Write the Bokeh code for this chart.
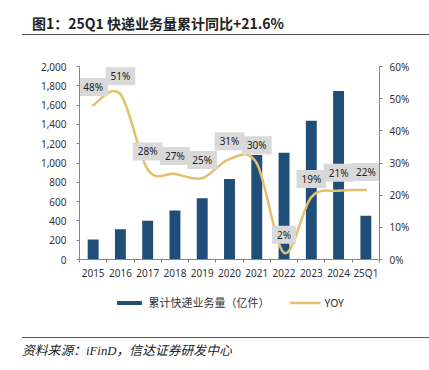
import numpy as np
from bokeh.plotting import figure
from bokeh.models import (Range1d, LinearAxis, FixedTicker, NumeralTickFormatter,
                          Legend, LegendItem, Div, ColumnDataSource)
from bokeh.layouts import column
from bokeh.embed import file_html
from bokeh.resources import INLINE
from bokeh.core.properties import value

# ---- data ----
categories = ["2015", "2016", "2017", "2018", "2019", "2020", "2021", "2022", "2023", "2024", "25Q1"]
volume = [206, 313, 401, 507, 635, 834, 1083, 1106, 1437, 1745, 453]
yoy = [0.48, 0.514, 0.28, 0.266, 0.253, 0.312, 0.299, 0.021, 0.194, 0.214, 0.216]
left_ticks = [0, 200, 400, 600, 800, 1000, 1200, 1400, 1600, 1800, 2000]
right_ticks = [0.0, 0.1, 0.2, 0.3, 0.4, 0.5, 0.6]
series_names = ["累计快递业务量（亿件）", "YOY"]
title_text = "图1：25Q1 快递业务量累计同比+21.6%"
source_text = "资料来源：iFinD，信达证券研发中心"

BLUE = "#1f4e79"
GOLD = "#e3c06c"
AXIS = "#868686"
TXT = "#333333"

n = len(categories)
xs = np.arange(n) + 0.5
ys = np.array(yoy)

p = figure(width=429, height=250, output_backend="svg", toolbar_location=None,
           x_range=Range1d(0, n), y_range=Range1d(0, 2000),
           min_border_left=79, min_border_right=50, min_border_top=31, min_border_bottom=26)
p.outline_line_color = None
p.xgrid.visible = False
p.ygrid.visible = False
p.extra_y_ranges = {"yoy": Range1d(0, 0.6)}

bar_src = ColumnDataSource(dict(x=xs, v=volume, cat=categories))
bars = p.vbar(x="x", top="v", width=0.4, source=bar_src, fill_color=BLUE, line_color=None)

# smooth (Excel-style) line via cubic Bezier segments built from the YOY points
prev_y = np.concatenate([[ys[0]], ys[:-2]])
next_y = np.concatenate([ys[2:], [ys[-1]]])
prev_x = np.concatenate([[xs[0]], xs[:-2]])
next_x = np.concatenate([xs[2:], [xs[-1]]])
x0, y0, x1, y1 = xs[:-1], ys[:-1], xs[1:], ys[1:]
bez = ColumnDataSource(dict(
    x0=x0, y0=y0, x1=x1, y1=y1,
    cx0=x0 + (x1 - prev_x) / 6, cy0=y0 + (y1 - prev_y) / 6,
    cx1=x1 - (next_x - x0) / 6, cy1=y1 - (next_y - y0) / 6))
curve = p.bezier(x0="x0", y0="y0", x1="x1", y1="y1", cx0="cx0", cy0="cy0",
                 cx1="cx1", cy1="cy1", source=bez, y_range_name="yoy",
                 line_color=GOLD, line_width=2.5, line_cap="round")

lab_src = ColumnDataSource(dict(x=xs, y=ys, t=[f"{round(v * 100)}%" for v in yoy]))
p.text(x="x", y="y", text="t", source=lab_src, y_range_name="yoy", y_offset=-18,
       text_align="center", text_baseline="middle", text_font=value("Noto Sans"),
       text_font_size="10px", text_color="#222222",
       background_fill_color="#d9d9d9", padding=(5, 2))

# x axis: labels at category centres, ticks between categories
xa = p.xaxis[0]
xa.ticker = FixedTicker(ticks=list(xs), minor_ticks=list(range(n + 1)))
xa.major_label_overrides = {float(x): c for x, c in zip(xs, categories)}
xa.major_tick_line_color = None
xa.major_tick_out = 0
xa.minor_tick_in = 0
xa.minor_tick_out = 3
xa.minor_tick_line_color = AXIS
xa.axis_line_color = AXIS
xa.major_label_standoff = 3
xa.major_label_text_font = "Noto Sans"
xa.major_label_text_font_size = "10px"
xa.major_label_text_color = TXT

ya = p.yaxis[0]
ya.ticker = FixedTicker(ticks=left_ticks)
ya.formatter = NumeralTickFormatter(format="0,0")
ya.major_tick_in = 0
ya.major_tick_out = 3
ya.minor_tick_line_color = None
ya.axis_line_color = AXIS
ya.major_tick_line_color = AXIS
ya.major_label_standoff = 10
ya.major_label_text_font = "Noto Sans"
ya.major_label_text_font_size = "10px"
ya.major_label_text_color = TXT

ra = LinearAxis(y_range_name="yoy", ticker=FixedTicker(ticks=right_ticks),
                formatter=NumeralTickFormatter(format="0%"))
ra.major_tick_in = 0
ra.major_tick_out = 3
ra.minor_tick_line_color = None
ra.axis_line_color = AXIS
ra.major_tick_line_color = AXIS
ra.major_label_standoff = 7
ra.major_label_text_font = "Noto Sans"
ra.major_label_text_font_size = "10px"
ra.major_label_text_color = TXT
p.add_layout(ra, "right")

# legend strip: a small canvas whose renderers share the chart's data but are hidden,
# so only the legend itself shows (and it is not clipped by the main plot frame)
lg = figure(width=429, height=34, output_backend="svg", toolbar_location=None,
            x_range=Range1d(0, n), y_range=Range1d(0, 2000),
            x_axis_location=None, y_axis_location=None,
            min_border_left=29, min_border_right=0, min_border_top=0, min_border_bottom=0)
lg.outline_line_color = None
lg.xgrid.visible = False
lg.ygrid.visible = False
lg_bar = lg.vbar(x="x", top="v", width=0.4, source=bar_src, fill_color=BLUE, line_color=None)
lg_line = lg.line(x="x", y="y", source=lab_src, line_color=GOLD, line_width=2.5)
lg_bar.visible = False
lg_line.visible = False
legend = Legend(items=[LegendItem(label=series_names[0], renderers=[lg_bar]),
                       LegendItem(label=series_names[1], renderers=[lg_line])],
                orientation="horizontal", location="center",
                glyph_width=31, glyph_height=5, label_standoff=4, spacing=20,
                margin=0, padding=0, border_line_color=None, background_fill_alpha=0,
                inactive_fill_alpha=0,
                label_text_font="Noto Sans CJK SC", label_text_font_size="11px",
                label_text_color=TXT)
lg.add_layout(legend)

title_div = Div(width=429, height=35, margin=0, text=(
    '<div style="margin-left:22px;width:407px;height:34.5px;box-sizing:border-box;'
    'border-bottom:1.5px solid #555;padding-top:14px;line-height:18px;'
    'font-family:\'Noto Sans CJK SC\';font-weight:bold;font-size:14px;color:#222;'
    'padding-left:10px;white-space:nowrap;">' + title_text + '</div>'))

source_div = Div(width=429, height=51, margin=0, text=(
    '<div style="margin-left:22px;margin-top:18px;width:407px;box-sizing:border-box;'
    'border-top:1.5px solid #555;padding-top:5px;line-height:16px;'
    'font-family:\'Liberation Serif\',\'Noto Sans CJK SC\';font-style:italic;'
    'font-size:12.8px;color:#222;white-space:nowrap;">' + source_text + '</div>'))

layout = column(title_div, p, lg, source_div, spacing=0)
open("out.html", "w").write(file_html(layout, INLINE))
